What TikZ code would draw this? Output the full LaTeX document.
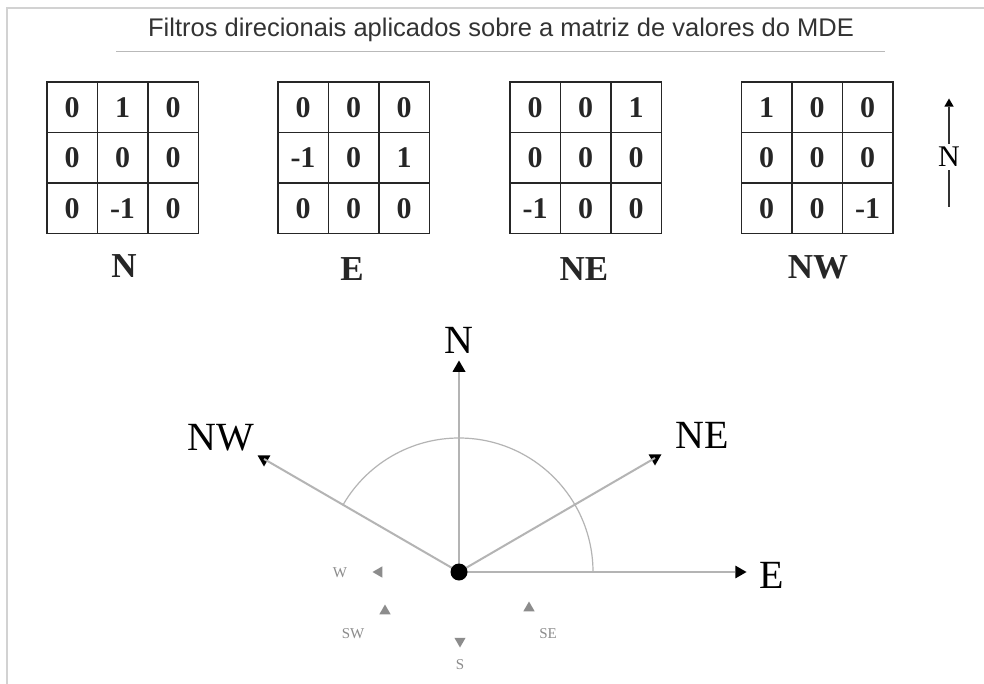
\documentclass[tikz,border=0pt]{standalone}
\usepackage{fontspec}
\setmainfont{Liberation Serif}
\newfontfamily\titlefont{Liberation Sans}
\usetikzlibrary{shapes.geometric}
\definecolor{linegray}{HTML}{B4B4B4}
\definecolor{smallgray}{HTML}{8C8C8C}
\tikzset{
  cell/.style={draw=black!85, line width=1.5pt, minimum size=50.5pt, inner sep=0pt,
      text height=20pt, text depth=0pt, anchor=center, font=\bfseries\fontsize{30}{30}\selectfont, text=black!85},
  klabel/.style={font=\bfseries\fontsize{35}{35}\selectfont, text=black!85},
  dirline/.style={draw=linegray, line width=2pt},
  tri/.style={regular polygon, regular polygon sides=3, fill=black, inner sep=0pt, minimum size=15pt},
  gtri/.style={tri, fill=smallgray},
  biglabel/.style={font=\fontsize{40}{40}\selectfont},
  smalllabel/.style={font=\fontsize{15}{15}\selectfont, text=smallgray},
}
\newcommand{\kernelgrid}[4]{%
  \foreach \v [count=\k from 0] in {#4} {
    \pgfmathtruncatemacro{\rr}{div(\k,3)}
    \pgfmathtruncatemacro{\cc}{mod(\k,3)}
    \node[cell] (#1-\rr-\cc) at ({#2+(\cc-1)*50.5},{#3+(\rr-1)*50.5}) {\v};
  }}
\begin{document}
\begin{tikzpicture}[x=1pt,y=-1pt]
\useasboundingbox (0,0) rectangle (984,684);
\fill[white] (0,0) rectangle (984,684);
% frame
\draw[gray!35, line width=1.5pt] (7,684) -- (7,8) -- (984,8);
% title
\node[font=\titlefont\fontsize{25.5}{25.5}\selectfont, text=black!80] (title) at (501,30) {Filtros direcionais aplicados sobre a matriz de valores do MDE};
\coordinate (ulL) at (116,52);
\coordinate (ulR) at (885,52);
\draw[gray!55, line width=1pt] (ulL) -- (ulR);
% kernels
\kernelgrid{kN}{122.5}{158}{0,1,0,0,0,0,0,-1,0}
\kernelgrid{kE}{353.5}{158}{0,0,0,-1,0,1,0,0,0}
\kernelgrid{kNE}{585.5}{158}{0,0,1,0,0,0,-1,0,0}
\kernelgrid{kNW}{817}{158}{1,0,0,0,0,0,0,0,-1}
\node[klabel] (lN) at (124,266) {N};
\node[klabel] (lE) at (352,269) {E};
\node[klabel] (lNE) at (584,269) {NE};
\node[klabel] (lNW) at (818,267) {NW};
% north arrow
\node[font=\fontsize{30}{30}\selectfont] (nsym) at (949,157) {N};
\node[tri, minimum size=11pt] (ntip) at (949,104) {};
\coordinate (nbot) at (949,207);
\draw[black!80, line width=2pt] (ntip.south) -- (nsym.north);
\draw[black!80, line width=2pt] (nsym.south) -- (nbot);
% compass
\coordinate (c) at (459,572);
\node[tri] (tN) at (459,368) {};
\node[tri, shape border rotate=-90] (tE) at (739,572) {};
\node[tri, shape border rotate=180] (tNE) at (655,458) {};
\node[tri, shape border rotate=180] (tNW) at (264,459) {};
\draw[dirline] (c) -- (tN.south);
\draw[dirline] (c) -- (tE.west);
\draw[dirline] (c) -- (tNE.center);
\draw[dirline] (c) -- (tNW.center);
\draw[draw=linegray, line width=1.2pt] (c) ++(134,0) arc[start angle=0, end angle=-150, radius=134];
\node[circle, fill=black, minimum size=17pt, inner sep=0pt] (cdot) at (c) {};
\node[biglabel] (NN) at (459,340) {N};
\node[biglabel] (NE) at (772,575) {E};
\node[biglabel] (NNE) at (702,435) {NE};
\node[biglabel] (NNW) at (221,438) {NW};
% minor directions
\node[gtri, shape border rotate=90, minimum size=13pt] (tW) at (379,572) {};
\node[gtri, minimum size=13pt] (tSW) at (385,611) {};
\node[gtri, shape border rotate=180, minimum size=13pt] (tS) at (460,641) {};
\node[gtri, minimum size=13pt] (tSE) at (529,608) {};
\node[smalllabel] (lW) at (340,573) {W};
\node[smalllabel] (lSW) at (353,634) {SW};
\node[smalllabel] (lS) at (460,665) {S};
\node[smalllabel] (lSE) at (548,634) {SE};
\end{tikzpicture}
\end{document}
